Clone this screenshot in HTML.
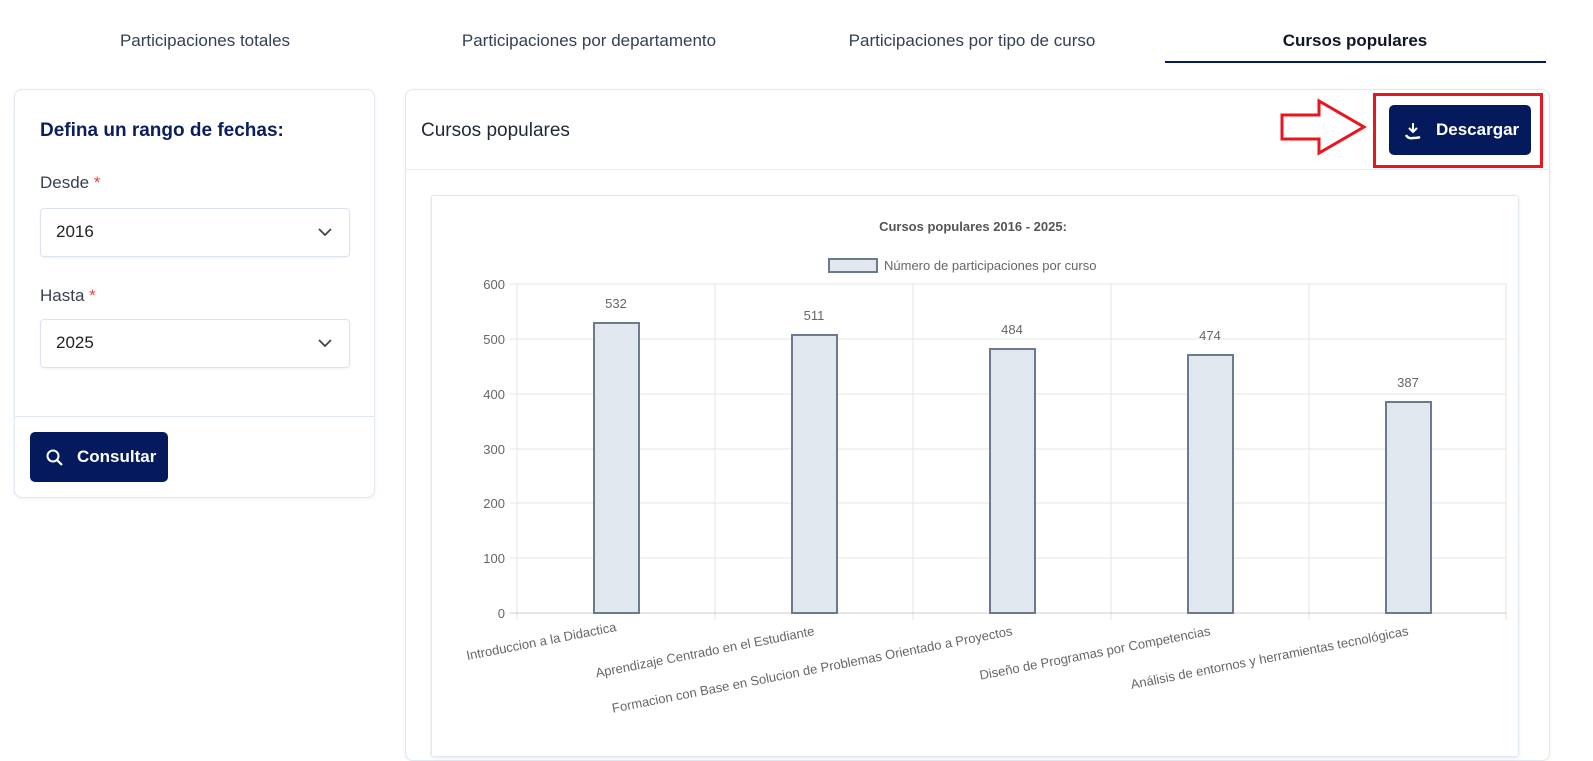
<!DOCTYPE html>
<html><head><meta charset="utf-8"><style>
body{margin:0;width:1593px;height:742px;background:#fff;font-family:"Liberation Sans",sans-serif;position:relative;overflow:hidden}
.a{position:absolute}
.tab{position:absolute;top:31px;font-size:17px;color:#334155;text-align:center}
.card{position:absolute;border:1px solid #e2e8f0;border-radius:8px;background:#fff;box-shadow:0 1px 3px rgba(0,0,0,.06)}
.sel{position:absolute;left:25px;width:308px;height:47px;border:1px solid #dde3ec;border-radius:4px;box-shadow:0 1px 2px rgba(0,0,0,.06);font-size:17px;color:#222}
.btn{position:absolute;background:#041a5c;color:#fff;border-radius:5px;font-weight:bold;font-size:17px}
</style></head><body>
<div class="tab" style="left:40px;width:330px">Participaciones totales</div>
<div class="tab" style="left:424px;width:330px">Participaciones por departamento</div>
<div class="tab" style="left:807px;width:330px">Participaciones por tipo de curso</div>
<div class="tab" style="left:1190px;width:330px;color:#0f172a;font-weight:bold">Cursos populares</div>
<div class="a" style="left:1165px;top:61px;width:381px;height:2px;background:#041a5c"></div>

<div class="card" style="left:14px;top:89px;width:359px;height:407px">
<div class="a" style="left:25px;top:30px;font-size:19px;font-weight:bold;color:#0b1f5e">Defina un rango de fechas:</div>
<div class="a" style="left:25px;top:83px;font-size:17px;color:#374151">Desde <span style="color:#ef4444">*</span></div>
<div class="sel" style="top:118px"><span class="a" style="left:15px;top:13px">2016</span><svg class="a" style="left:276px;top:17px" width="16" height="12"><path d="M2 3l6 6 6-6" stroke="#444" stroke-width="1.8" fill="none"/></svg></div>
<div class="a" style="left:25px;top:196px;font-size:17px;color:#374151">Hasta <span style="color:#ef4444">*</span></div>
<div class="sel" style="top:229px"><span class="a" style="left:15px;top:13px">2025</span><svg class="a" style="left:276px;top:17px" width="16" height="12"><path d="M2 3l6 6 6-6" stroke="#444" stroke-width="1.8" fill="none"/></svg></div>
<div class="a" style="left:0;top:326px;width:359px;height:1px;background:#e2e8f0"></div>
<div class="btn" style="left:15px;top:342px;width:138px;height:50px"><svg class="a" style="left:16px;top:17px" width="18" height="18"><circle cx="7" cy="7" r="5.5" stroke="#fff" stroke-width="2" fill="none"/><path d="M11 11l5 5" stroke="#fff" stroke-width="2.2"/></svg><span class="a" style="left:47px;top:15px">Consultar</span></div>
</div>

<div class="card" style="left:405px;top:89px;width:1143px;height:670px">
<div class="a" style="left:15px;top:30px;font-size:19px;color:#1f2937">Cursos populares</div>
<div class="a" style="left:0;top:79px;width:1143px;height:1px;background:#e8edf3"></div>
<div class="btn" style="left:983px;top:15px;width:142px;height:50px"><svg class="a" style="left:15px;top:17px" width="18" height="18"><path d="M9 1v9M5 6l4 4 4-4" stroke="#fff" stroke-width="2" fill="none"/><path d="M2 13q2 4 7 3q5 0 7-1" stroke="#fff" stroke-width="2.5" fill="none"/></svg><span class="a" style="left:47px;top:15px">Descargar</span></div>
</div>
<div class="a" style="left:1373px;top:93px;width:170px;height:75px;border:3px solid #e8161e;box-sizing:border-box"></div>
<svg class="a" style="left:1278px;top:96px" width="90" height="64"><path d="M4 19H41V5L86 31L41 57V43H4Z" fill="none" stroke="#e8161e" stroke-width="3"/></svg>

<div class="card" style="left:431px;top:195px;width:1086px;height:560px;border-radius:3px;box-shadow:0 1px 3px rgba(0,0,0,.1)"></div>
<svg class="a" style="left:0;top:0" width="1593" height="742" font-family="Liberation Sans, sans-serif">
<text x="973" y="231" text-anchor="middle" font-size="13" font-weight="bold" fill="#555">Cursos populares 2016 - 2025:</text>
<rect x="829" y="259" width="48" height="13" fill="#e1e7ef" stroke="#6b7a90" stroke-width="2"/>
<text x="884" y="270" font-size="13" fill="#666">Número de participaciones por curso</text>
<g stroke="#e6e6e6" stroke-width="1">
<line x1="517" y1="284" x2="1506" y2="284"/><line x1="517" y1="339" x2="1506" y2="339"/><line x1="517" y1="394" x2="1506" y2="394"/><line x1="517" y1="449" x2="1506" y2="449"/><line x1="517" y1="503" x2="1506" y2="503"/><line x1="517" y1="558" x2="1506" y2="558"/>
<line x1="517" y1="284" x2="517" y2="620"/><line x1="715" y1="284" x2="715" y2="620"/><line x1="913" y1="284" x2="913" y2="620"/><line x1="1111" y1="284" x2="1111" y2="620"/><line x1="1309" y1="284" x2="1309" y2="620"/><line x1="1506" y1="284" x2="1506" y2="620"/>
<line x1="510" y1="284" x2="517" y2="284"/><line x1="510" y1="339" x2="517" y2="339"/><line x1="510" y1="394" x2="517" y2="394"/><line x1="510" y1="449" x2="517" y2="449"/><line x1="510" y1="503" x2="517" y2="503"/><line x1="510" y1="558" x2="517" y2="558"/>
</g>
<line x1="510" y1="613" x2="1506" y2="613" stroke="#ccc"/>
<g font-size="13" fill="#666" text-anchor="end">
<text x="505" y="289">600</text><text x="505" y="344">500</text><text x="505" y="399">400</text><text x="505" y="454">300</text><text x="505" y="508">200</text><text x="505" y="563">100</text><text x="505" y="618">0</text>
</g>
<g fill="#e1e7ef" stroke="#6b7a90" stroke-width="2">
<rect x="594" y="323" width="45" height="290"/><rect x="792" y="335" width="45" height="278"/><rect x="990" y="349" width="45" height="264"/><rect x="1188" y="355" width="45" height="258"/><rect x="1386" y="402" width="45" height="211"/>
</g>
<g font-size="13" fill="#666" text-anchor="middle">
<text x="616" y="308">532</text><text x="814" y="320">511</text><text x="1012" y="334">484</text><text x="1210" y="340">474</text><text x="1408" y="387">387</text>
</g>
<g font-size="13" fill="#666" text-anchor="end">
<text transform="translate(617,631) rotate(-11)">Introduccion a la Didactica</text>
<text transform="translate(815,635) rotate(-11)">Aprendizaje Centrado en el Estudiante</text>
<text transform="translate(1013,635) rotate(-11)">Formacion con Base en Solucion de Problemas Orientado a Proyectos</text>
<text transform="translate(1211,635) rotate(-11)">Diseño de Programas por Competencias</text>
<text transform="translate(1409,635) rotate(-11)">Análisis de entornos y herramientas tecnológicas</text>
</g>
</svg>
</body></html>
